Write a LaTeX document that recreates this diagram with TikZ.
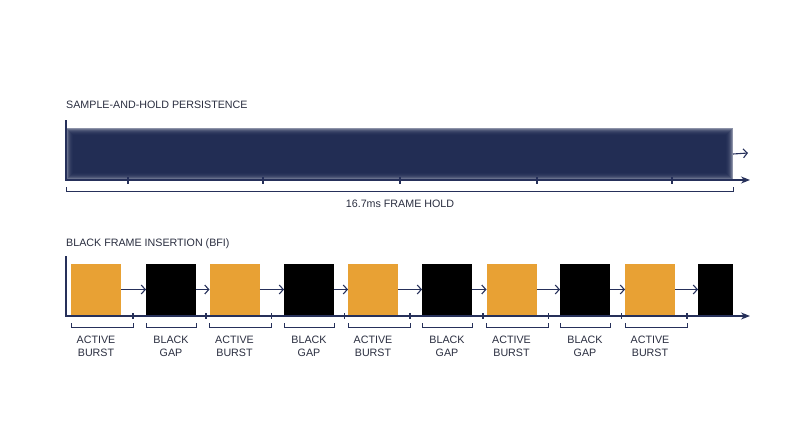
\documentclass[tikz,border=0pt]{standalone}
\usepackage{fontspec}
\setmainfont{Liberation Sans}
\usetikzlibrary{arrows.meta}
\usetikzlibrary{positioning}
\usetikzlibrary{calc}
\definecolor{navy}{HTML}{1C2850}
\definecolor{axisblue}{HTML}{26305A}
\definecolor{burstorange}{HTML}{E8A134}
\definecolor{labelgray}{HTML}{2A2E40}

\begin{document}
\begin{tikzpicture}[>={Stealth[length=9pt,width=7pt]}, x=1pt, y=-1pt,
		axis/.style={draw=axisblue, line width=1.1pt},
		brace/.style={draw=axisblue, line width=0.9pt},
		chev/.style={-{Straight Barb[length=4pt,width=9pt]}},
		labeltext/.style={text=labelgray, inner sep=0pt, align=center, font=\fontsize{10.7}{13}\selectfont},
		burst/.style={fill=burstorange, minimum width=50, minimum height=51, inner sep=0pt, outer sep=0pt},
		gapbox/.style={fill=black, minimum width=50, minimum height=51, inner sep=0pt, outer sep=0pt}]
		\useasboundingbox (0,0) rectangle (800,447);
		%coordinates
		\coordinate (topY)  at (66,120);
		\coordinate (topE)  at (750,180);
		\coordinate (botY)  at (66,256);
		\coordinate (botE)  at (750,316);
		\coordinate (holdL) at (66,191);
		\coordinate (holdR) at (733,191);
		\coordinate (barR)  at (748,153);

		%titles
		\node[labeltext, anchor=west] (tsh) at (66,105) {SAMPLE-AND-HOLD PERSISTENCE};
		\node[labeltext, anchor=west] (tbfi) at (66,244) {BLACK FRAME INSERTION (BFI)};

		%sample and hold
		\node[fill=navy!50, minimum width=667, minimum height=52, inner sep=0pt, outer sep=0pt, anchor=north west] (bar) at (66,128) {};
		\foreach \k in {1,...,7}
			\fill[navy, opacity=0.33] ($(bar.north west)+(\k,\k)$) rectangle ($(bar.south east)+(-\k,-\k)$);
		\draw[axis, ->] (topY) |- (topE);
		\foreach \t in {128,263,400,537,672}
			\draw[axis] (\t,177) -- (\t,184);
		\draw[brace] ($(holdL)+(0,-4)$) -- (holdL) -- (holdR) -- ($(holdR)+(0,-4)$);
		\node[labeltext] (hold) at (400,204) {16.7ms FRAME HOLD};
		\draw[axis, chev] (bar.east) -- (barR);

		%black frame insertion
		\draw[axis, ->] (botY) |- (botE);
		\foreach \i in {0,...,4}
			\node[burst, anchor=north west] (a\i) at ({71+138.5*\i},264) {};
		\foreach \i in {0,...,3}
			\node[gapbox, anchor=north west] (b\i) at ({146+138*\i},264) {};
		\node[gapbox, minimum width=35, anchor=north west] (b4) at (698,264) {};

		\foreach \i in {0,...,4}{
			\draw[axis, chev] (a\i.east) -- (b\i.west);
			\draw[axis] ($(a\i.south west)+(62,-2)$) -- ++(0,6);
			\draw[brace] ($(a\i.south west)+(0,8)$) -- ++(0,4) -- ($(a\i.south west)+(62,12)$) -- ++(0,-4);
			\node[labeltext, below=21pt of a\i] (la\i) {ACTIVE\\BURST};
		}
		\foreach \i [evaluate=\i as \j using int(\i+1)] in {0,...,3}{
			\draw[axis, chev] (b\i.east) -- (a\j.west);
			\draw[axis] ($(a\i.south west)+(135,-2)$) -- ++(0,6);
			\draw[brace] ($(b\i.south west)+(0,8)$) -- ++(0,4) -- ($(b\i.south east)+(0,12)$) -- ++(0,-4);
			\node[labeltext, below=21pt of b\i] (lb\i) {BLACK\\GAP};
		}
\end{tikzpicture}
\end{document}
